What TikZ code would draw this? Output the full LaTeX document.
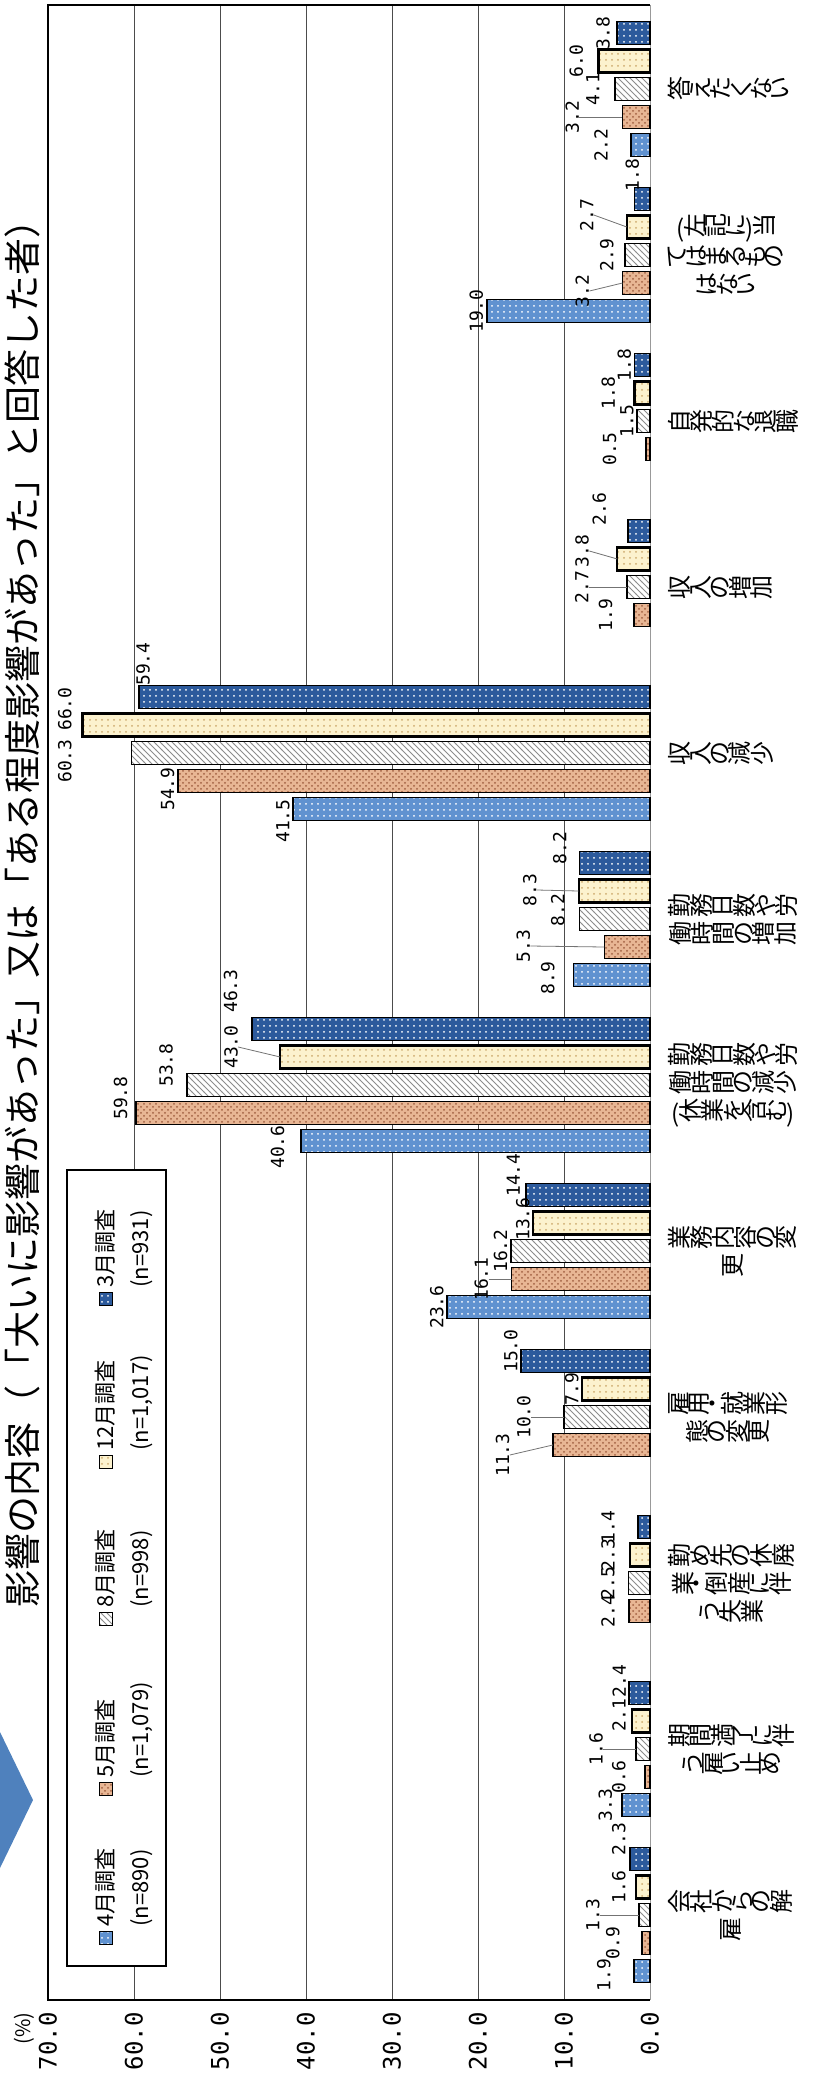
\documentclass[tikz,border=0pt]{standalone}
\usepackage{fontspec}
\setmainfont{Noto Sans CJK JP}
\newfontfamily\numfont{DejaVu Sans Mono}
\usepackage{xcolor}
\usepackage{tikz}
\usetikzlibrary{patterns,calc}

\definecolor{aprblue}{RGB}{96,146,208}
\definecolor{maysalmon}{RGB}{232,182,148}
\definecolor{maydot}{RGB}{160,95,65}
\definecolor{augline}{RGB}{140,140,140}
\definecolor{deccream}{RGB}{252,242,206}
\definecolor{decdot}{RGB}{205,170,110}
\definecolor{mardark}{RGB}{44,90,156}
\definecolor{iconblue}{RGB}{79,129,189}

% characters of a tategaki label, turned with the page
\newcommand\tate[1]{\tatestep#1\relax}
\def\tatestep#1{\ifx#1\relax\else\rotatebox{90}{#1}\expandafter\tatestep\fi}

% group / series / value / label shift x / label shift y / leader
\def\bardata{
    0/0/2.2/20/0/0, 0/1/3.2/40/0/1, 0/2/4.1/12/0/0, 0/3/6.0/12/0/0, 0/4/3.8/4/0/0,
    1/0/19.0/0/0/0, 1/1/3.2/30/8/1, 1/2/2.9/8/0/0, 1/3/2.7/30/-12/1, 1/4/1.8/-8/-24/0,
    2/1/0.5/26/0/0, 2/2/1.5/0/0/0, 2/3/1.8/16/0/0, 2/4/1.8/0/0/0,
    3/1/1.9/18/0/0, 3/2/2.7/35/0/1, 3/3/3.8/25/-8/1, 3/4/2.6/18/-22/0,
    4/0/41.5/0/12/0, 4/1/54.9/0/8/0, 4/2/60.3/56.4/8/0, 4/3/66.0/7.4/-16/0, 4/4/59.4/-14/-33/0,
    5/0/8.9/15.5/3/0, 5/1/5.3/71/-1/1, 5/2/8.2/11.5/-9/0, 5/3/8.3/38.6/-1/1, 5/4/8.2/9.5/-15/0,
    6/0/40.6/13/6/0, 6/1/59.8/5/-15/0, 6/2/53.8/11/-20/0, 6/3/43.0/39/-10/1, 6/4/46.3/11/-38/0,
    7/0/23.6/0/0/0, 7/1/16.1/20/0/1, 7/2/16.2/0/0/0, 7/3/13.6/0/-4/0, 7/4/14.4/3/-20/0,
    8/1/11.3/40/10/1, 8/2/10.0/30/0/1, 8/3/7.9/0/0/0, 8/4/15.0/0/-10/0,
    9/1/2.4/11.4/0/0, 9/2/2.5/10.5/0/0, 9/3/2.3/12/0/0, 9/4/1.4/20/0/0,
    10/0/3.3/6/0/0, 10/1/0.6/15.8/0/0, 10/2/1.6/30/0/1, 10/3/2.1/2.9/-6/0, 10/4/2.4/0/-12/0,
    11/0/1.9/19.7/4/0, 11/1/0.9/19.3/0/0, 11/2/1.3/35.8/0/1, 11/3/1.6/7.2/0/0, 11/4/2.3/1.2/-20/0}

\tikzset{
  ser0/.style={draw=black, line width=0.9pt, preaction={fill=aprblue}, pattern=dots, pattern color=white},
  ser1/.style={draw=black, line width=0.9pt, preaction={fill=maysalmon}, pattern=crosshatch dots, pattern color=maydot},
  ser2/.style={draw=black, line width=0.9pt, preaction={fill=white}, pattern=north west lines, pattern color=augline},
  ser3/.style={draw=black, line width=1.1pt, preaction={fill=deccream}, pattern=dots, pattern color=decdot},
  ser4/.style={draw=black, line width=0.9pt, preaction={fill=mardark}, pattern=dots, pattern color=white},
  grid/.style={draw=black!70, line width=0.5pt},
  frame/.style={draw=black, line width=1.4pt},
  vlab/.style={rotate=90, anchor=south, inner sep=0pt, font=\numfont\fontsize{9pt}{9pt}\selectfont},
  leader/.style={draw=black!55, line width=0.4pt},
  axlab/.style={rotate=90, anchor=east, inner sep=0pt, font=\numfont\fontsize{12pt}{12pt}\selectfont},
  catlab/.style={anchor=west, align=center, inner sep=0pt, font=\fontsize{12pt}{14pt}\selectfont},
  legtext/.style={rotate=90, anchor=north west, align=left, inner sep=0pt, font=\fontsize{11pt}{17.5pt}\selectfont},
  titletext/.style={rotate=90, anchor=west, inner sep=0pt, font=\fontsize{18.5pt}{20pt}\selectfont}
}

\begin{document}
\begin{tikzpicture}[x=0.5pt,y=-0.5pt]
    \useasboundingbox (0,0) rectangle (824,2082);
    % title
    \fill[iconblue] (0,1732) -- (33,1800) -- (0,1868) -- cycle;
    \node[titletext] (title) at (22,1608) {影響の内容（「大いに影響があった」又は「ある程度影響があった」と回答した者）};
    % grid and frame
    \foreach \g in {10,20,...,60}
        \draw[grid] ({650-8.6*\g},5) -- ({650-8.6*\g},2000);
    \draw[draw=black!40, line width=0.5pt] (650,5) -- (650,2000);
    \draw[frame] (650,5) -- (48,5) -- (48,2000) -- (650,2000);
    \foreach \g/\t in {0/0.0,1/10.0,2/20.0,3/30.0,4/40.0,5/50.0,6/60.0,7/70.0}
        \node[axlab] (ax\g) at ({650-86*\g},2012) {\t};
    \node[rotate=90, anchor=east, inner sep=0pt, font=\fontsize{10pt}{10pt}\selectfont] (pct) at (24,2012) {(\%)};
    % legend
    \draw[fill=white, draw=black, line width=1pt] (67,1170) rectangle (166,1966);
    \draw[ser0, line width=0.5pt] (99,1931) rectangle (112,1944);
    \node[legtext] (leg0) at (95,1927) {4月調査\\(n=890)};
    \draw[ser1, line width=0.5pt] (99,1782) rectangle (112,1795);
    \node[legtext] (leg1) at (95,1778) {5月調査\\(n=1,079)};
    \draw[ser2, line width=0.5pt] (99,1612) rectangle (112,1625);
    \node[legtext] (leg2) at (95,1608) {8月調査\\(n=998)};
    \draw[ser3, line width=0.5pt] (99,1455) rectangle (112,1468);
    \node[legtext] (leg3) at (95,1451) {12月調査\\(n=1,017)};
    \draw[ser4, line width=0.5pt] (99,1292) rectangle (112,1305);
    \node[legtext] (leg4) at (95,1288) {3月調査\\(n=931)};
    % bars
    \foreach \k/\s/\v/\dx/\dy/\ld in \bardata {
        \pgfmathsetmacro\yc{33+166*\k+28*(4-\s)}
        \draw[ser\s] ({650-8.6*\v},\yc-11.5) rectangle (650,\yc+11.5);
        \coordinate (b-\k-\s) at ({650-8.6*\v},\yc);
    }
    % value labels
    \foreach \k/\s/\v/\dx/\dy/\ld in \bardata {
        \node[vlab] (l-\k-\s) at ($(b-\k-\s)+({-3-(\dx)},{\dy})$) {\v};
        \ifnum\ld=1 \draw[leader] (l-\k-\s.south) -- (b-\k-\s); \fi
    }
    % category labels
    \node[catlab] (cat0) at (668,89) {\tate{答えたくない}};
    \node[catlab] (cat1) at (668,255) {(\tate{左記に})\tate{当}\\\tate{てはまるもの}\\\tate{はない}};
    \node[catlab] (cat2) at (668,421) {\tate{自発的な退職}};
    \node[catlab] (cat3) at (668,587) {\tate{収入の増加}};
    \node[catlab] (cat4) at (668,753) {\tate{収入の減少}};
    \node[catlab] (cat5) at (668,919) {\tate{勤務日数や労}\\\tate{働時間の増加}};
    \node[catlab] (cat6) at (668,1085) {\tate{勤務日数や労}\\\tate{働時間の減少}\\(\tate{休業を含む})};
    \node[catlab] (cat7) at (668,1251) {\tate{業務内容の変}\\\tate{更}};
    \node[catlab] (cat8) at (668,1417) {\tate{雇用・就業形}\\\tate{態の変更}};
    \node[catlab] (cat9) at (668,1583) {\tate{勤め先の休廃}\\\tate{業・倒産に伴}\\\tate{う失業}};
    \node[catlab] (cat10) at (668,1749) {\tate{期間満了に伴}\\\tate{う雇い止め}};
    \node[catlab] (cat11) at (668,1915) {\tate{会社からの解}\\\tate{雇}};
\end{tikzpicture}
\end{document}
